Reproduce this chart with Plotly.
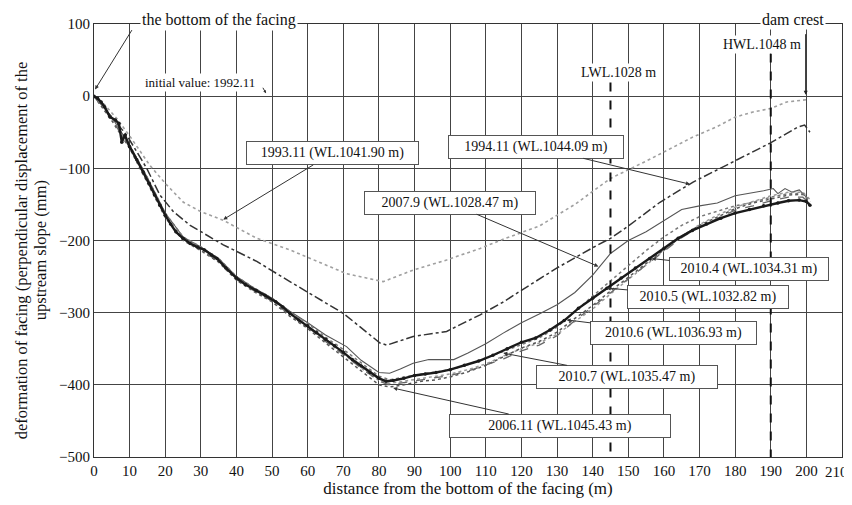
import plotly.graph_objects as go

FONT = "Liberation Serif, Times New Roman, serif"

# ---------------- data ----------------
x_1993 = [0, 3, 6.4, 10, 15.7, 20.4, 25.1, 30, 36.3, 45.7, 55, 61.6, 70.9, 81.2, 89.6, 99, 108.4,
          115, 125, 135, 145, 155, 160, 168, 175, 180, 185, 190, 194.5, 200]
y_1993 = [0, -12, -31, -55, -96, -123, -147, -160, -172, -197, -213, -227, -246, -257, -241, -227, -211,
          -198, -180, -150, -114, -90, -77, -57, -42, -29, -22, -17, -8, -5]

x_1994 = [0, 5, 9.2, 14.8, 18.5, 22.3, 27, 36.3, 45.7, 55, 62, 70, 80.3, 82.2, 89.6, 99, 108.4, 115,
          120, 130, 140, 145, 150, 158.9, 168.2, 179.5, 189.8, 197.5, 199.5, 201]
y_1994 = [0, -30, -54, -100, -137, -160, -179, -206, -229, -257, -278, -301, -342, -345, -333, -326, -303,
          -285, -269, -238, -210, -197, -180, -147, -119, -91, -65, -43, -40, -50]

x_2007 = [0, 5, 10, 15, 20, 25, 30, 35, 40, 45, 50, 55, 60, 65, 70.9, 75, 80, 83, 86, 89.6, 94, 101,
          105, 110, 115, 120, 125, 130, 135, 140, 145, 150, 155, 160, 165, 170, 175, 180, 185, 188,
          190.7, 192, 194, 196, 198, 200]
y_2007 = [0, -29, -68, -113, -162, -195, -209, -225, -250, -266, -280, -298, -314, -331, -347, -366, -383,
          -384, -378, -370, -365, -365, -356, -343, -328, -314, -302, -289, -272, -248, -218, -200,
          -188, -172, -157, -152, -148, -138, -134, -131, -128, -135, -128, -133, -130, -140]

x_low = [0, 5, 10, 15, 20, 25, 30, 35, 40, 45, 50, 55, 60, 65, 70, 75, 80, 83, 87, 92, 96, 100, 105,
         110, 115, 120, 125, 130, 135, 140, 145, 150, 155, 160, 165, 170, 175, 180, 185, 190, 195,
         199, 201]
y_2006_11 = [0, -34, -72, -119, -168, -200, -214, -230, -255, -271, -285, -305, -322, -342, -361, -381,
             -400, -403, -400, -395, -393, -389, -382, -373, -361, -349, -340, -327, -308, -290, -270,
             -251, -232, -213, -194, -179, -167, -156, -148, -142, -137, -136, -147]
y_2010_4 = [0, -29, -68, -113, -162, -195, -209, -225, -250, -266, -280, -299, -315, -334, -351, -370,
            -388, -393, -389, -385, -382, -379, -372, -363, -354, -344, -335, -320, -298, -277, -256,
            -235, -214, -195, -179, -167, -159, -152, -147, -140, -135, -135, -145]
y_2010_5 = [0, -32, -71, -117, -167, -199, -213, -229, -254, -270, -284, -303, -320, -340, -358, -377,
            -395, -400, -397, -393, -391, -387, -381, -373, -364, -353, -345, -332, -311, -292, -272,
            -253, -234, -215, -196, -181, -169, -158, -152, -145, -140, -140, -149]
y_2010_6 = [0, -30, -69, -114, -164, -197, -211, -227, -253, -269, -283, -302, -320, -339, -357, -377,
            -394, -398, -395, -391, -388, -385, -379, -371, -360, -350, -342, -330, -312, -295, -274,
            -254, -234, -214, -194, -178, -165, -154, -146, -138, -133, -133, -143]

x_2010_7 = [0, 1, 2, 3, 4.5, 6, 7, 7.8, 8.7, 10, 12, 13.8, 15.5, 17, 18.5, 20, 21.5, 23, 25, 27, 29, 31,
            33, 34.5, 37, 40, 42.5, 45.5, 48, 51, 53, 55, 57.5, 60, 62.5, 65, 67.5, 70, 72.5, 75,
            77.5, 80, 82, 84, 87, 90, 93, 96, 100, 104, 108, 112, 116, 120, 124, 128, 132, 136, 140,
            144, 148, 152, 156, 160, 164, 168, 172, 176, 180, 184, 188, 192, 195, 198, 200, 201]
y_2010_7 = [0, -3, -8, -15, -29, -33, -38, -64, -54, -70, -88, -105, -121, -137, -151, -165, -177, -188,
            -197, -204, -209, -213, -220, -225, -238, -252, -261, -269, -276, -285, -292, -301, -310,
            -318, -328, -337, -346, -355, -365, -374, -383, -391, -395, -394, -391, -387, -385, -383,
            -379, -373, -367, -359, -350, -341, -335, -324, -311, -294, -280, -266, -252, -238, -225,
            -211, -197, -186, -177, -169, -162, -157, -152, -148, -145, -144, -146, -151]

LWL_x, LWL_top = 145, 19
HWL_x, HWL_top = 190, 59
CREST_x = 199.8

x_ticks = list(range(0, 201, 10))   # 210 sits on the frame edge; its label is placed separately
x_last = 210
y_ticks = list(range(-500, 101, 100))

# label: (text, tip_x, tip_y, box_x, box_y, box_width)
labels = [
    ("1993.11 (WL.1041.90 m)", 36.3, -171, 66.9, -79.2, 165),
    ("1994.11 (WL.1044.09 m)", 167.3, -122, 124.1, -70.2, 168),
    ("2007.9 (WL.1028.47 m)", 141.6, -236, 99.9, -147.7, 164),
    ("2010.4 (WL.1034.31 m)", 156.6, -225, 183.9, -239.6, 152),
    ("2010.5 (WL.1032.82 m)", 143.9, -266, 172.4, -277.9, 154),
    ("2010.6 (WL.1036.93 m)", 132.7, -310, 162.8, -328.5, 159),
    ("2010.7 (WL.1035.47 m)", 114.9, -356, 149.6, -389.0, 174),
    ("2006.11 (WL.1045.43 m)", 84.0, -404.5, 130.8, -456.4, 214),
]

# ---------------- figure ----------------
fig = go.Figure()

def add_line(x, y, color, width, dash, name):
    fig.add_trace(go.Scatter(x=x, y=y, mode="lines", name=name,
                             line=dict(color=color, width=width, dash=dash), showlegend=False))

add_line(x_1993, y_1993, "#a0a0a0", 1.6, "dot", "1993.11")
add_line(x_1994, y_1994, "#333333", 1.5, "dashdot", "1994.11")
add_line(x_2007, y_2007, "#555555", 1.1, "solid", "2007.9")
add_line(x_low, y_2010_6, "#9a9a9a", 1.5, "dot", "2010.6")
add_line(x_low, y_2006_11, "#555555", 1.5, "dot", "2006.11")
add_line(x_low, y_2010_5, "#666666", 1.3, "dash", "2010.5")
add_line(x_low, y_2010_4, "#777777", 1.5, "dot", "2010.4")
fig.add_trace(go.Scatter(x=x_2010_7, y=y_2010_7, mode="lines+markers", name="2010.7",
                         line=dict(color="#1a1a1a", width=2.4),
                         marker=dict(color="#1a1a1a", size=3.5), showlegend=False))

# water-level reference lines
for xv, top in [(LWL_x, LWL_top), (HWL_x, HWL_top)]:
    fig.add_shape(type="line", xref="x", yref="y", x0=xv, x1=xv, y0=top, y1=-500,
                  line=dict(color="#111111", width=2, dash="dash"))

annotations = []
for text, tx, ty, bx, by, w in labels:
    annotations.append(dict(
        x=tx, y=ty, xref="x", yref="y", ax=bx, ay=by, axref="x", ayref="y",
        text=text, showarrow=True, arrowhead=2, arrowsize=0.8, arrowwidth=1,
        arrowcolor="#333333", bgcolor="white", bordercolor="#555555", borderwidth=1,
        borderpad=3, width=w, font=dict(family=FONT, size=14, color="#111111")))

# page-pixel helpers (plot area spans x 94..842, y 23.5..457 on the page)
def paper_x(px):
    return (px - 94) / 748.0

def paper_y(py):
    return (457 - py) / 433.5

def txt(px, py, text, size, angle=0, bg=None, xanchor="center"):
    d = dict(x=paper_x(px), y=paper_y(py), xref="paper", yref="paper", text=text,
             showarrow=False, xanchor=xanchor, yanchor="middle", textangle=angle,
             font=dict(family=FONT, size=size, color="#111111"))
    if bg:
        d["bgcolor"] = bg
    return d

annotations += [
    txt(219, 19, "the bottom of the facing", 16, bg="white"),
    dict(x=0.3, y=9.3, xref="x", yref="y", ax=10.9, ay=93.6, axref="x", ayref="y", text="",
         showarrow=True, arrowhead=2, arrowsize=0.8, arrowwidth=1, arrowcolor="#333333"),
    txt(793, 19, "dam crest", 16, bg="white"),
    dict(x=CREST_x, y=2, xref="x", yref="y", ax=CREST_x, ay=88, axref="x", ayref="y", text="",
         showarrow=True, arrowhead=2, arrowsize=0.8, arrowwidth=1, arrowcolor="#222222"),
    txt(762, 44, "HWL.1048 m", 14, bg="white"),
    txt(618, 72, "LWL.1028 m", 14, bg="white"),
    txt(200, 82, "initial value: 1992.11", 13, bg="white"),
    dict(x=48.3, y=4, xref="x", yref="y", ax=-4, ay=-7, text="", showarrow=True,
         arrowhead=2, arrowsize=0.6, arrowwidth=1, arrowcolor="#333333"),
    txt(21, 250, "deformation of facing (perpendicular displacement of the", 16.5, angle=-90),
    txt(40, 250, "upstream slope (mm)", 16.5, angle=-90),
    txt(850, 472, str(x_last), 15, xanchor="right"),
]

# The page body has an 8px margin, so the figure is sized and offset to compensate.
fig.update_layout(
    width=844, height=497, autosize=False,
    margin=dict(l=86, r=10, t=15.5, b=48, autoexpand=False),
    paper_bgcolor="white", plot_bgcolor="white",
    font=dict(family=FONT, size=15, color="#111111"),
    annotations=annotations,
    xaxis=dict(range=[0, x_last], tickvals=x_ticks, ticktext=[str(v) for v in x_ticks],
               showgrid=True, gridcolor="#444444", gridwidth=1, zeroline=False,
               showline=True, linecolor="#333333", linewidth=1, mirror=True, ticks="",
               automargin=False,
               tickfont=dict(family=FONT, size=15, color="#111111"),
               title=dict(text="distance from the bottom of the facing (m)", standoff=4,
                          font=dict(family=FONT, size=17, color="#111111"))),
    yaxis=dict(range=[-500, 100], tickvals=y_ticks, automargin=False,
               showgrid=True, gridcolor="#444444", gridwidth=1, zeroline=False,
               showline=True, linecolor="#333333", linewidth=1, mirror=True, ticks="",
               tickfont=dict(family=FONT, size=15, color="#111111")),
)

fig.write_html("out.html")
